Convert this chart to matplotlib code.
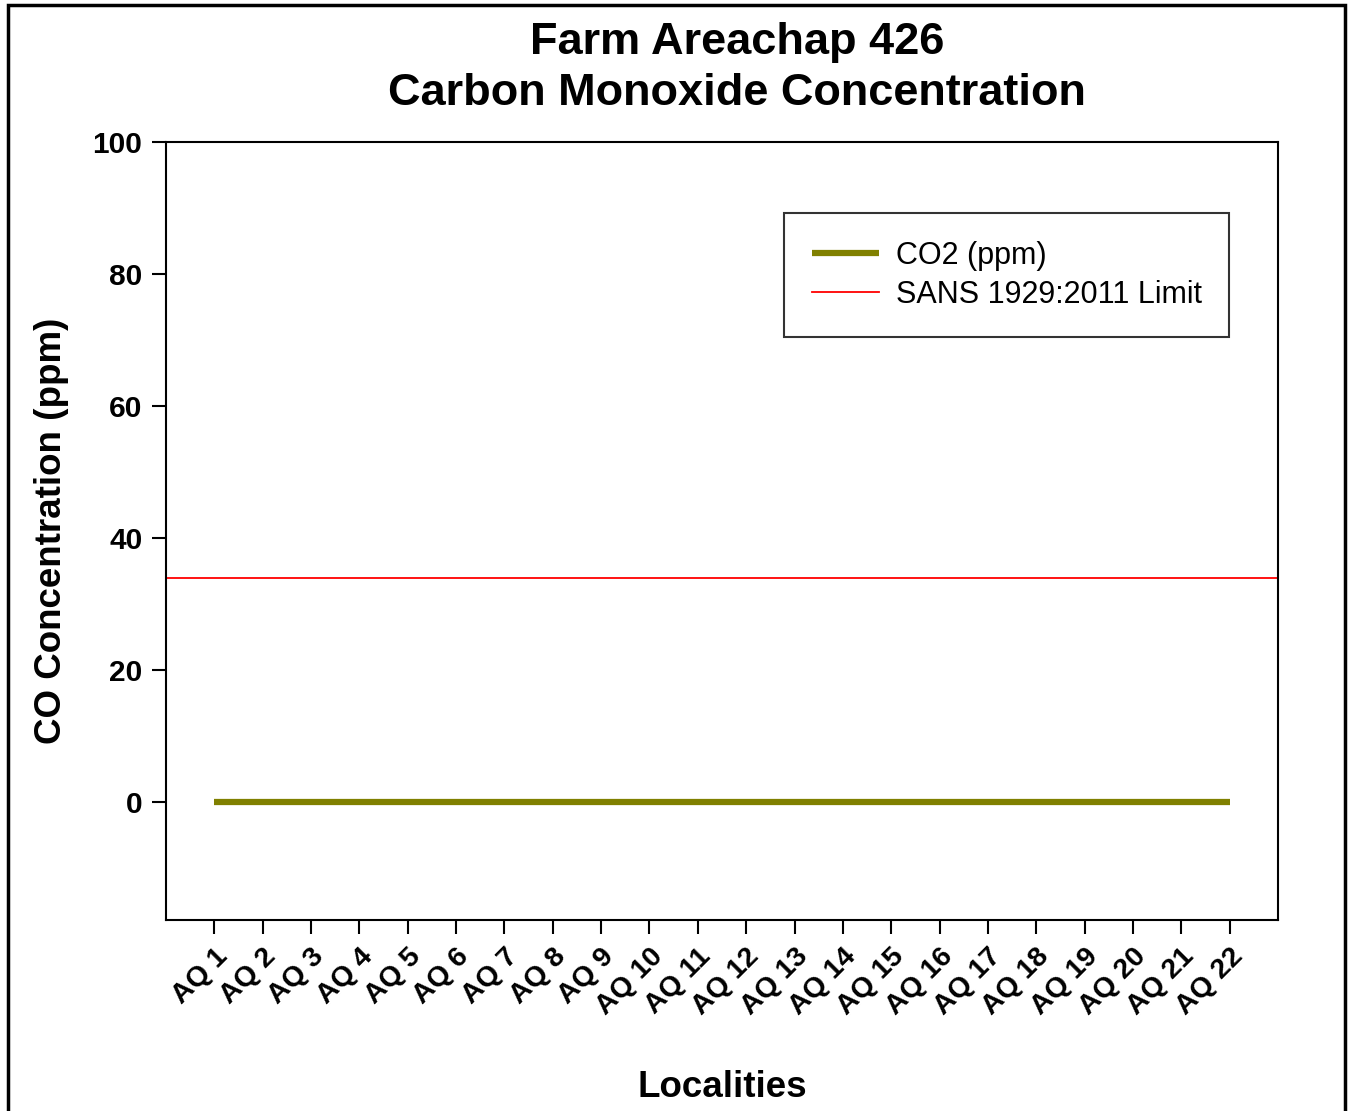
import matplotlib.pyplot as plt
from matplotlib.patches import Rectangle

plt.rcParams['font.family'] = ['Liberation Sans', 'DejaVu Sans']

# data
localities = ["AQ %d" % i for i in range(1, 23)]
co_values = [0, 0, 0, 0, 0, 0, 0, 0, 0, 0, 0, 0, 0, 0, 0, 0, 0, 0, 0, 0, 0, 0]
limit_value = 34
y_ticks = [0, 20, 40, 60, 80, 100]

fig = plt.figure(figsize=(13.48, 11.11), dpi=100)
ax = fig.add_axes([0.1231, 0.1719, 0.8250, 0.7003])

x = list(range(1, len(localities) + 1))
ax.plot(x, co_values, color='#808000', linewidth=4.5, label="CO2 (ppm)", solid_capstyle='butt')
ax.axhline(limit_value, color='#ff0000', linewidth=1.3, label="SANS 1929:2011 Limit")

ax.set_xlim(0, 23)
ax.set_ylim(-17.9, 100)
ax.set_yticks(y_ticks)
ax.set_xticks(x)
ax.set_xticklabels(localities, rotation=45, ha='right', rotation_mode='anchor',
                   fontsize=20.5, fontweight='bold')
ax.tick_params(axis='x', direction='out', length=10, width=1.5, pad=7)
ax.tick_params(axis='y', direction='out', length=10, width=1.5, labelsize=21.5, pad=7)
for lab in ax.get_yticklabels():
    lab.set_fontweight('bold')
for sp in ax.spines.values():
    sp.set_linewidth(1.5)

ax.set_xlabel("Localities", fontsize=26.5, fontweight='bold', labelpad=36)
ax.set_ylabel("CO Concentration (ppm)", fontsize=26.5, fontweight='bold', labelpad=17)

fig.text(0.547, 0.9615, "Farm Areachap 426", ha='center', va='center',
         fontsize=32.5, fontweight='bold')
fig.text(0.547, 0.9155, "Carbon Monoxide Concentration", ha='center', va='center',
         fontsize=32.5, fontweight='bold')

leg = ax.legend(loc='upper right', bbox_to_anchor=(0.956, 0.9087), borderaxespad=0,
                fontsize=22, frameon=True, fancybox=False, handlelength=2.2,
                borderpad=0.9, labelspacing=0.3, handletextpad=0.55)
leg.get_frame().set_edgecolor('black')
leg.get_frame().set_linewidth(1.5)

# outer frame
fig.patches.append(Rectangle((8 / 1348, -0.01), 1337 / 1348, 1 - 5 / 1111 + 0.01,
                             transform=fig.transFigure, fill=False,
                             edgecolor='black', linewidth=2.5))

fig.savefig("out.png", dpi=100)
